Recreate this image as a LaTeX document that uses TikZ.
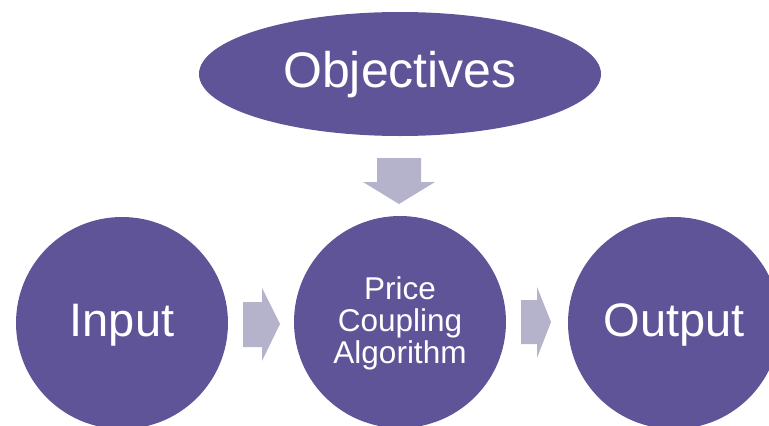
\documentclass[tikz,border=0pt]{standalone}
\usepackage{fontspec}
\setmainfont{Liberation Sans}
\definecolor{purp}{RGB}{96,84,152}
\definecolor{arr}{RGB}{181,179,204}
\tikzset{
  blob/.style={fill=purp, draw=none, text=white, inner sep=0pt},
  blockarrow/.style={fill=arr, draw=none},
}
\begin{document}
\begin{tikzpicture}[x=1pt,y=-1pt]
\useasboundingbox (0,0) rectangle (769,426);
\clip (0,0) rectangle (769,426);
\fill[purp] (400,74) ellipse [x radius=201, y radius=62];
\node[text=white, font=\fontsize{50}{56}\selectfont] (obj) at (400,75) {Objectives};
\node[blob, circle, minimum size=212pt] (in) at (122,323) {};
\node[text=white, font=\fontsize{47}{52}\selectfont] at (122,325) {Input};
\node[blob, circle, minimum size=212pt] (pca) at (400,322) {};
\node[text=white, font=\fontsize{31.5}{32}\selectfont, align=center] at (400,323) {Price\\Coupling\\Algorithm};
\node[blob, circle, minimum size=212pt] (out) at (674,323) {};
\node[text=white, font=\fontsize{47}{52}\selectfont] at (674,325) {Output};
% down arrow
\fill[blockarrow] (377,158) -- (421,158) -- (421,182) -- (435,182) -- (399,204) -- (363,182) -- (377,182) -- cycle;
% left arrow
\fill[blockarrow] (243,302) -- (262,302) -- (262,288) -- (280,324) -- (262,361) -- (262,347) -- (243,347) -- cycle;
% right arrow
\fill[blockarrow] (521,300) -- (537,300) -- (537,287) -- (551,322) -- (537,358) -- (537,344) -- (521,344) -- cycle;
\end{tikzpicture}
\end{document}
